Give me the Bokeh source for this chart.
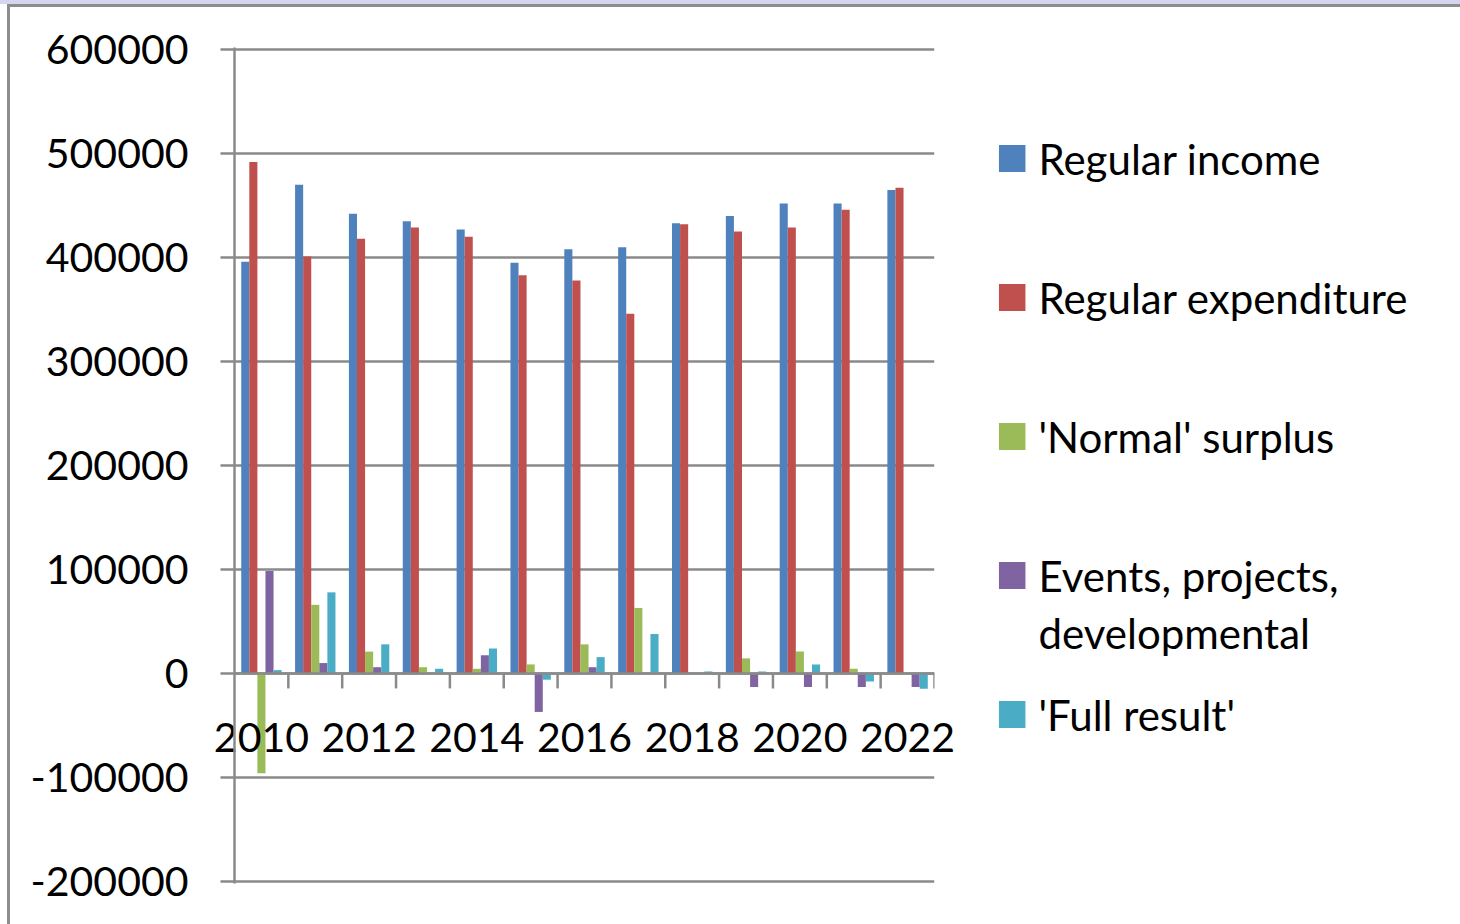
from bokeh.plotting import figure
from bokeh.models import (FactorRange, Range1d, FixedTicker, PrintfTickFormatter,
                          Span, ColumnDataSource, InlineStyleSheet, CategoricalAxis,
                          CustomJSTickFormatter)
from bokeh.transform import dodge
from bokeh.layouts import row
from bokeh.core.properties import value
from bokeh.embed import file_html
from bokeh.resources import INLINE

years = [str(y) for y in range(2010, 2023)]
regular_income = [396000, 470000, 442000, 435000, 427000, 395000, 408000,
                  410000, 433000, 440000, 452000, 452000, 465000]
regular_expenditure = [492000, 401000, 418000, 429000, 420000, 383000, 378000,
                       346000, 432000, 425000, 429000, 446000, 467000]
normal_surplus = [-96000, 66000, 21000, 6000, 4500, 8700, 28000,
                  63000, 1000, 14500, 21000, 4500, -1500]
events_projects = [98500, 10000, 6000, 0, 17500, -37000, 6000,
                   0, 0, -13000, -13000, -13000, -13000]
full_result = [3200, 78000, 28000, 4500, 24000, -6000, 15700,
               38000, 1900, 1900, 8700, -7700, -14800]

series_names = ["Regular income", "Regular expenditure", "'Normal' surplus",
                "Events, projects,\ndevelopmental", "'Full result'"]
series_keys = ["income", "expenditure", "surplus", "events", "full"]
colors = ["#4F81BD", "#C0504D", "#9BBB59", "#8064A2", "#4BACC6"]

y_ticks = [-200000, -100000, 0, 100000, 200000, 300000, 400000, 500000, 600000]
x_label_years = years[::2]

FONT = "Lato"
GRID = "#8a8a8a"

src = ColumnDataSource(dict(years=years, income=regular_income,
                            expenditure=regular_expenditure,
                            surplus=normal_surplus, events=events_projects,
                            full=full_result))

p = figure(x_range=FactorRange(*years), y_range=Range1d(-202000, 602000),
           width=960, height=924, output_backend="svg", toolbar_location=None,
           x_axis_location=None, min_border_left=234, min_border_right=26,
           min_border_top=47, min_border_bottom=41)
p.outline_line_color = None
p.background_fill_color = "white"
p.border_fill_color = "white"
p.xgrid.grid_line_color = None
p.ygrid.grid_line_color = GRID
p.ygrid.grid_line_width = 2.5
p.ygrid.ticker = FixedTicker(ticks=y_ticks)

ax = p.yaxis[0]
ax.ticker = FixedTicker(ticks=y_ticks)
ax.formatter = PrintfTickFormatter(format="%d")
ax.axis_line_color = GRID
ax.axis_line_width = 2.5
ax.major_tick_line_color = GRID
ax.major_tick_line_width = 2.5
ax.major_tick_out = 14
ax.major_tick_in = 0
ax.minor_tick_line_color = None
ax.major_label_text_font = FONT
ax.major_label_text_font_size = "41px"
ax.major_label_text_color = "black"
ax.major_label_standoff = 32

# zero axis line and tick marks at category boundaries
p.add_layout(Span(location=0, dimension="width", line_color=GRID,
                  line_width=2.5, level="glyph"))
bounds = list(range(1, len(years) + 1))
p.segment(x0=bounds, x1=bounds, y0=[0] * len(bounds), y1=[-14400] * len(bounds),
          line_color=GRID, line_width=2.5)

bw = 0.15
for k, (key, col) in enumerate(zip(series_keys, colors)):
    p.vbar(x=dodge("years", (k - 2) * bw, range=p.x_range), top=key,
           bottom=0, width=bw, source=src, fill_color=col, line_color=None)

# category labels: shown next to the zero line (every second year)
xax = CategoricalAxis(axis_line_color=None, major_tick_line_color=None,
                      minor_tick_line_color=None, major_tick_out=0,
                      major_tick_in=0, major_label_standoff=-161,
                      major_label_text_font=FONT,
                      major_label_text_font_size="41px",
                      major_label_text_color="black",
                      formatter=CustomJSTickFormatter(
                          args=dict(keep=x_label_years),
                          code="return keep.includes(String(tick)) ? String(tick) : ''"))
p.add_layout(xax, "below")

# legend panel (y in page pixels)
leg = figure(x_range=Range1d(0, 500), y_range=Range1d(883, 47), width=500,
             height=924, output_backend="svg", toolbar_location=None,
             x_axis_location=None, y_axis_location=None,
             min_border_left=0, min_border_right=0,
             min_border_top=47, min_border_bottom=41)
leg.outline_line_color = None
leg.xgrid.grid_line_color = None
leg.ygrid.grid_line_color = None
leg.border_fill_color = "white"

LEG_FS = 42
item_y = [158 + 139 * i for i in range(len(series_names))]
leg.rect(x=[51.7] * len(item_y), y=item_y, width=26.5, height=27,
         fill_color=colors, line_color=None)
line_h = 58
text_y = [y + n.count("\n") * line_h / 2 for y, n in zip(item_y, series_names)]
leg.text(x=[78] * len(item_y), y=text_y, text=series_names,
         text_font=value(FONT), text_font_size=f"{LEG_FS}px", text_color="black",
         text_align="left", text_baseline="middle",
         text_line_height=line_h / (LEG_FS * 1.2))

frame_css = InlineStyleSheet(css="""
:host::before { content: ""; position: absolute; left: 0; top: 0;
  width: 1460px; height: 4px; background: #d5d5f0; z-index: 10;
  pointer-events: none; }
:host::after { content: ""; position: absolute; left: 7px; top: 4px;
  width: 1460px; height: 930px; border-left: 3px solid #8d8d8d;
  border-top: 3px solid #8d8d8d; z-index: 10; pointer-events: none; }
""")

layout = row(p, leg, spacing=0, stylesheets=[frame_css])
open("out.html", "w").write(file_html(layout, INLINE))
